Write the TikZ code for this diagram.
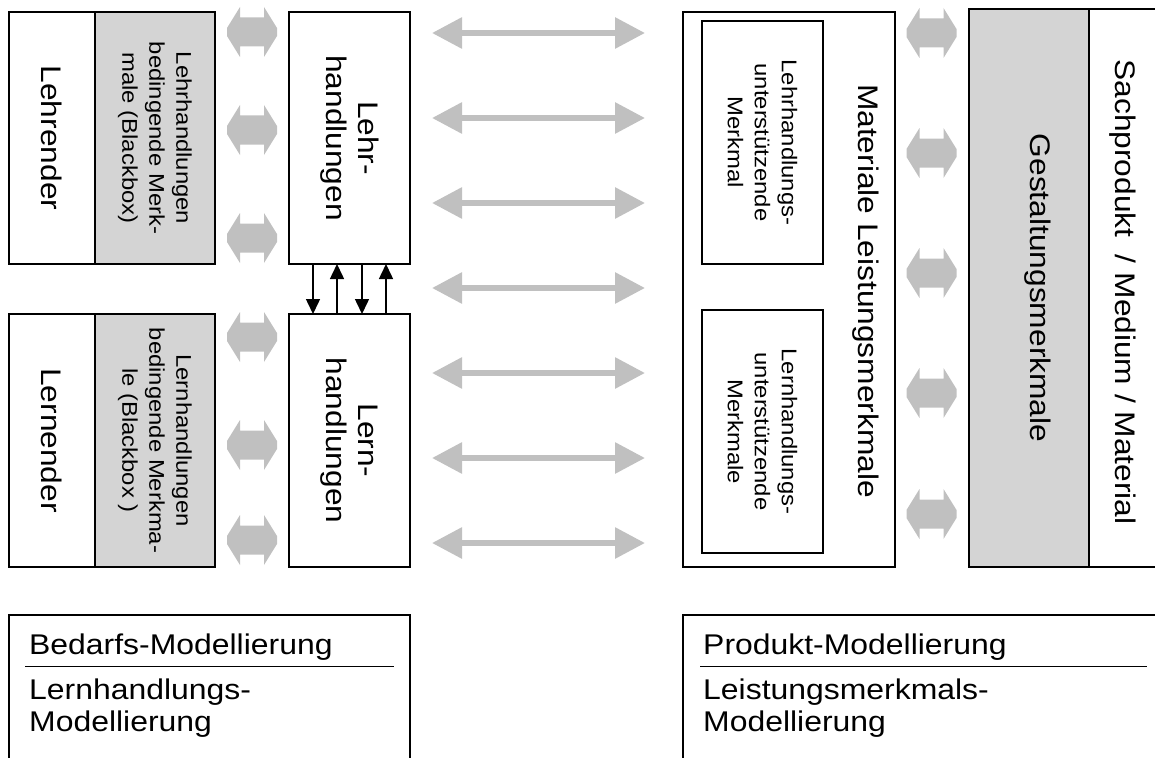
\documentclass[tikz,border=0pt]{standalone}
\usepackage{fontspec}
\setmainfont{Liberation Sans}[FakeStretch=1.12]
\usetikzlibrary{arrows.meta}
\definecolor{panelgray}{RGB}{212,212,212}
\definecolor{arrowgray}{RGB}{192,192,192}
\begin{document}
\begin{tikzpicture}[x=1pt,y=-1pt,
  box/.style={draw=black, line width=1.6pt, inner sep=0pt, outer sep=0pt},
  shaded/.style={box, fill=panelgray},
  bigtext/.style={font=\fontsize{28.3}{32}\selectfont, align=center, rotate=-90, inner sep=0pt},
  smalltext/.style={font=\fontsize{21.3}{27}\selectfont, align=center, rotate=-90, inner sep=0pt},
  bottomtext/.style={font=\fontsize{28.5}{32}\selectfont, align=left, inner sep=0pt, anchor=base west},
  sepline/.style={line width=1pt},
  smallarrow/.style={line width=1.5pt, -{Triangle[length=15pt,width=14pt]}},
  longarrow/.style={draw=arrowgray, line width=6pt,
    {Triangle[length=30pt,width=30pt]}-{Triangle[length=30pt,width=30pt]}},
  fatarrow/.pic={\fill[arrowgray] (-25,-4) -- (-12,-25) -- (-12,-14.5) -- (12,-14.5)
     -- (12,-25) -- (25,-4) -- (25,4) -- (12,25) -- (12,14.5) -- (-12,14.5)
     -- (-12,25) -- (-25,4) -- cycle;}
]
\useasboundingbox (0,0) rectangle (1155,757);
\clip (0,0) rectangle (1155,757);

% ---- teaching side (top row) ----
\node[box, minimum width=86pt, minimum height=252pt] (lehrender) at (52,138) {};
\node[bigtext] (lehrendertxt) at (lehrender) {Lehrender};
\node[shaded, minimum width=120pt, minimum height=252pt] (lehrbb) at (155,138) {};
\node[smalltext] (lehrbbtxt) at (lehrbb) {Lehrhandlungen\\bedingende Merk-\\male (Blackbox)};
\node[box, minimum width=121pt, minimum height=252pt] (lehrh) at (349.5,138) {};
\node[bigtext] (lehrhtxt) at (lehrh) {Lehr-\\handlungen};

% ---- learning side (second row) ----
\node[box, minimum width=86pt, minimum height=253pt] (lernender) at (52,440.5) {};
\node[bigtext] (lernendertxt) at (lernender) {Lernender};
\node[shaded, minimum width=120pt, minimum height=253pt] (lernbb) at (155,440.5) {};
\node[smalltext] (lernbbtxt) at (lernbb) {Lernhandlungen\\bedingende Merkma-\\le (Blackbox )};
\node[box, minimum width=121pt, minimum height=253pt] (lernh) at (349.5,440.5) {};
\node[bigtext] (lernhtxt) at (lernh) {Lern-\\handlungen};

% ---- interplay between teaching and learning actions ----
\coordinate (s1) at (313,289);
\coordinate (s2) at (337,289);
\coordinate (s3) at (362,289);
\coordinate (s4) at (386,289);
\draw[smallarrow] (lehrh.south -| s1) -- (lernh.north -| s1);
\draw[smallarrow] (lernh.north -| s2) -- (lehrh.south -| s2);
\draw[smallarrow] (lehrh.south -| s3) -- (lernh.north -| s3);
\draw[smallarrow] (lernh.north -| s4) -- (lehrh.south -| s4);

% ---- short double arrows ----
\foreach \yy in {32,130,238,337,445,540}
  \pic at (252,\yy) {fatarrow};
\foreach \yy in {33,153,273,393,514}
  \pic at (931.5,\yy) {fatarrow};

% ---- long double arrows ----
\foreach \yy [count=\i] in {33,118,203,288,373,458,543} {
  \coordinate (la\i) at (432,\yy);
  \coordinate (ra\i) at (645,\yy);
  \draw[longarrow] (la\i) -- (ra\i);
}

% ---- product side ----
\node[box, minimum width=212pt, minimum height=555pt] (material) at (789,289.5) {};
\node[bigtext] (materialtxt) at (866,291) {Materiale Leistungsmerkmale};
\node[box, minimum width=121pt, minimum height=243pt] (lehrsupp) at (762.5,142.5) {};
\node[smalltext] (lehrsupptxt) at (lehrsupp) {Lehrhandlungs-\\unterstützende\\Merkmal};
\node[box, minimum width=121pt, minimum height=243pt] (lernsupp) at (762.5,431.5) {};
\node[smalltext] (lernsupptxt) at (lernsupp) {Lernhandlungs-\\unterstützende\\Merkmale};

\node[shaded, minimum width=120pt, minimum height=558pt] (gestalt) at (1029,288) {};
\node[bigtext] (gestalttxt) at (1038,288) {Gestaltungsmerkmale};
\node[box, minimum width=81pt, minimum height=558pt] (sach) at (1129.5,288) {};
\node[bigtext] (sachtxt) at (1123,292) {Sachprodukt\ \ / Medium / Material};

% ---- modelling legends ----
\node[box, minimum width=401pt, minimum height=160pt, anchor=north west] (bedarf) at (9,615) {};
\coordinate (sepL1) at (25,666);
\coordinate (sepL2) at (394,666);
\draw[sepline] (sepL1) -- (sepL2);
\node[bottomtext] (bedarftxt) at (29,654) {Bedarfs-Modellierung};
\node[bottomtext] (lernmodtxt) at (29,731) {Lernhandlungs-\\Modellierung};

\node[box, minimum width=490pt, minimum height=160pt, anchor=north west] (produkt) at (683,615) {};
\coordinate (sepR1) at (700,666);
\coordinate (sepR2) at (1147,666);
\draw[sepline] (sepR1) -- (sepR2);
\node[bottomtext] (produkttxt) at (703,654) {Produkt-Modellierung};
\node[bottomtext] (leistmodtxt) at (703,731) {Leistungsmerkmals-\\Modellierung};
\end{tikzpicture}
\end{document}
